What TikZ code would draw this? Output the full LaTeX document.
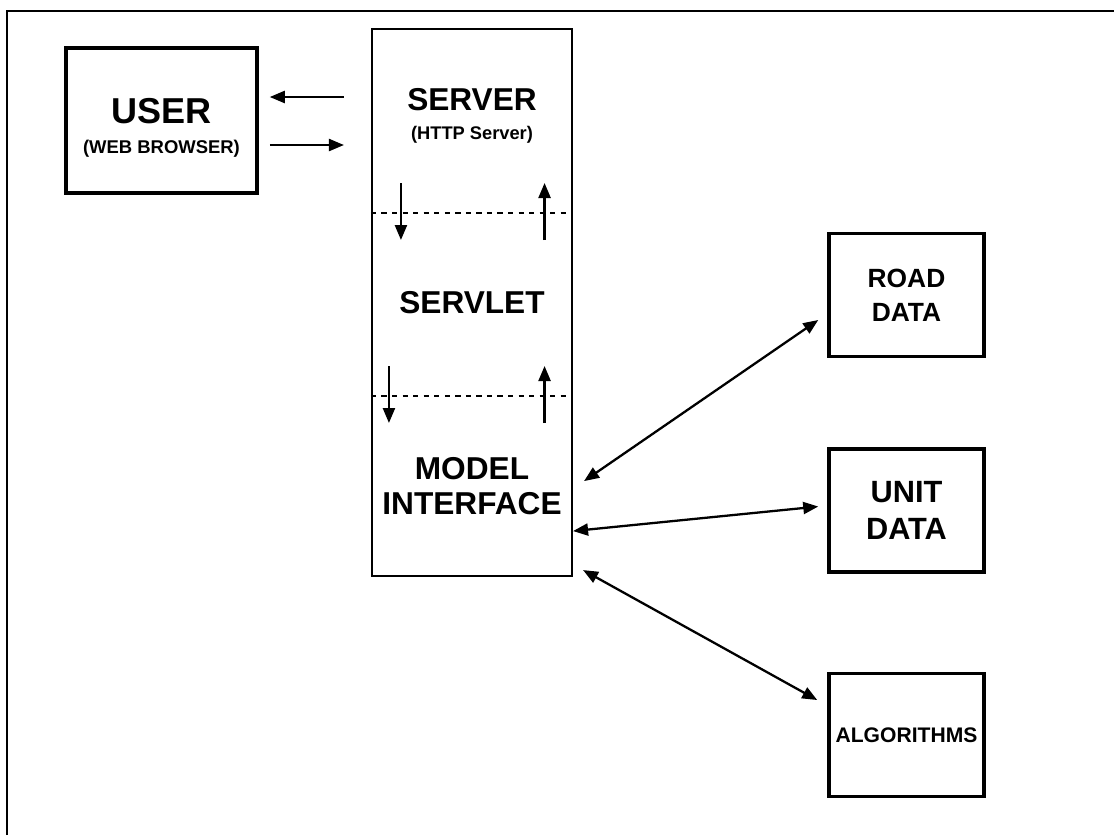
\documentclass[tikz,border=0pt]{standalone}
\usepackage{fontspec}
\setmainfont{Liberation Sans}
\usetikzlibrary{positioning, calc, arrows.meta}
\tikzset{>={Triangle[length=0.3cm, width=0.24cm]}}

\begin{document}
\begin{tikzpicture}
    [font=\bfseries,
      box/.style={draw, line width=2pt, align=center, inner sep=2pt},
      datbox/.style={box, minimum width=3.1cm, minimum height=2.46cm},
      tier/.style={draw, line width=1.2pt, minimum width=4cm, minimum height=10.94cm},
      link/.style={line width=1.3pt}]

    \useasboundingbox (0,0) rectangle (22.28,-16.7);
    \draw[line width=1.3pt] (0.14,-16.7) -- (0.14,-0.22) -- (22.28,-0.22);

    % user side
    \node[box, minimum width=3.82cm, minimum height=2.9cm] (user) at (3.23,-2.41) {};
    \node[align=center, font=\bfseries\fontsize{10.5}{17}\selectfont] (user-text)
      at ([yshift=-0.14cm]user.center) {{\fontsize{20.5}{20}\selectfont USER}\\(WEB BROWSER)};

    % server column
    \node[tier] (server) at (9.44,-6.05) {};
    \node[align=center, font=\bfseries\fontsize{10.4}{16.5}\selectfont] (server-text)
      at (9.44,-2.32) {{\fontsize{18}{18}\selectfont SERVER}\\(HTTP Server)};
    \node[font=\bfseries\fontsize{18}{20}\selectfont] (servlet) at (9.44,-6.06) {SERVLET};
    \node[align=center, font=\bfseries\fontsize{18}{20}\selectfont] (model)
      at (9.44,-9.72) {MODEL\\INTERFACE};

    \coordinate (cut1) at (9.44,-4.26);
    \coordinate (cut2) at (9.44,-7.92);
    \foreach \c/\dx in {cut1/0.6, cut2/0.36} {
      \draw[dashed, line width=0.8pt] (server.west |- \c) -- (server.east |- \c);
      \draw[->, link] ($(server.west |- \c) + (\dx,0.6)$) -- ++(0,-1.14);
      \draw[->, link] ($(server.east |- \c) + (-0.57,-0.54)$) -- ++(0,1.14);
    }

    % requests and replies
    \draw[<-, link, shorten <=0.22cm, shorten >=0.54cm]
      ([yshift=0.47cm]user.east) -- ([yshift=0.47cm]user.east -| server.west);
    \draw[->, link, shorten <=0.22cm, shorten >=0.54cm]
      ([yshift=-0.49cm]user.east) -- ([yshift=-0.49cm]user.east -| server.west);

    % data stores
    \node[datbox, font=\bfseries\fontsize{15}{19.5}\selectfont] (road) at (18.13,-5.9) {ROAD\\DATA};
    \node[datbox, below=1.78cm of road, font=\bfseries\fontsize{17.5}{21}\selectfont] (unit) {UNIT\\DATA};
    \node[datbox, below=1.96cm of unit, font=\bfseries\fontsize{12}{14}\selectfont] (algo) {ALGORITHMS};

    \coordinate (mi-road) at ($(server.south east) + (0.22,1.92)$);
    \coordinate (mi-unit) at ($(server.south east) + (0,0.92)$);
    \coordinate (mi-algo) at ($(server.south east) + (0.2,0.14)$);
    \draw[<->, link] (mi-road) -- ([xshift=-0.18cm, yshift=-0.5cm]road.west);
    \draw[<->, link] (mi-unit) -- ([xshift=-0.18cm, yshift=0.08cm]unit.west);
    \draw[<->, link] (mi-algo) -- ([xshift=-0.2cm, yshift=0.7cm]algo.west);
  \end{tikzpicture}
\end{document}
